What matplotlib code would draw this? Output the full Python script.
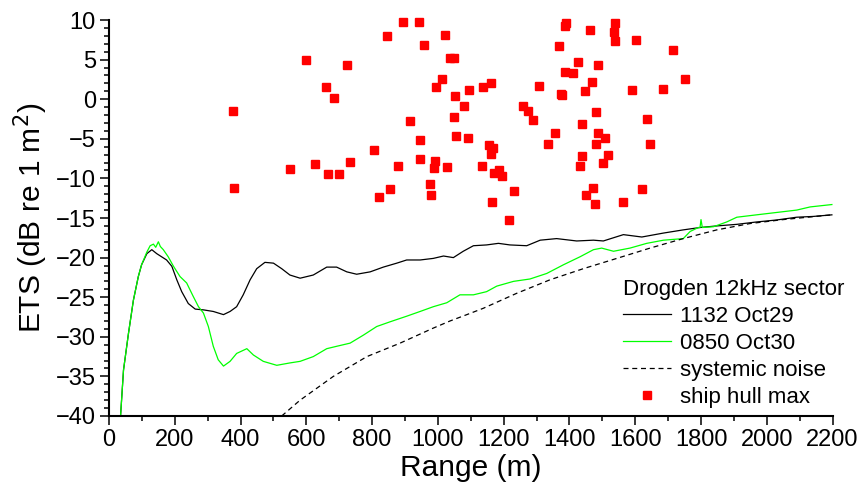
import matplotlib
matplotlib.use("Agg")
import matplotlib.pyplot as plt
from matplotlib.ticker import MultipleLocator

plt.rcParams['font.family'] = ['Liberation Sans', 'DejaVu Sans']

# 1132 Oct29 (black)
black_x = [35, 44, 59, 74, 89, 99, 115, 130, 145, 160, 175, 191, 206, 221, 241, 262, 287, 317, 348, 368,
           388, 408, 429, 449, 474, 500, 525, 550, 581, 621, 662, 692, 723, 753, 794, 834, 875, 905, 946, 986,
           1017, 1047, 1077, 1108, 1148, 1184, 1219, 1270, 1311, 1361, 1422, 1473, 1503, 1564, 1620, 1686,
           1746, 1797, 1848, 1909, 1969, 2030, 2091, 2142, 2198]
black_y = [-40, -34.2, -29.6, -25.4, -22.4, -20.9, -19.5, -19.0, -19.5, -19.9, -20.3, -21.1, -22.8, -24.3, -25.8, -26.5, -26.6, -26.8, -27.2, -26.8,
           -26.2, -24.7, -22.8, -21.4, -20.6, -20.7, -21.4, -22.2, -22.6, -22.2, -21.2, -21.2, -21.8, -22.1, -21.8, -21.2, -20.7, -20.3, -20.3, -20.1,
           -19.8, -20.0, -19.2, -18.5, -18.4, -18.2, -18.4, -18.5, -17.8, -17.6, -17.9, -17.8, -17.9, -17.1, -17.4, -16.9,
           -16.5, -16.2, -16.0, -15.8, -15.5, -15.25, -14.9, -14.8, -14.6]

# 0850 Oct30 (green)
green_x = [35, 44, 59, 74, 89, 99, 115, 125, 135, 142, 150, 156, 165, 180, 196, 216, 236, 256, 272, 287,
           302, 317, 332, 348, 368, 388, 419, 439, 469, 510, 550, 581, 621, 662, 692, 733, 773, 814, 855, 905,
           946, 986, 1027, 1067, 1108, 1148, 1179, 1230, 1280, 1331, 1382, 1432, 1473, 1498, 1534, 1584, 1635,
           1686, 1746, 1767, 1792, 1797, 1800, 1804, 1838, 1878, 1909, 1969, 2030, 2091, 2132, 2198]
green_y = [-40, -34.2, -29.6, -25.4, -22.4, -20.9, -19.3, -18.5, -18.3, -18.7, -18.0, -18.6, -19.0, -19.9, -21.1, -22.4, -23.2, -24.9, -26.2, -27.0,
           -28.7, -31.2, -32.9, -33.7, -33.1, -32.1, -31.5, -32.3, -33.1, -33.6, -33.3, -33.1, -32.5, -31.5, -31.2, -30.8, -29.8, -28.7, -28.1, -27.4,
           -26.8, -26.2, -25.7, -24.7, -24.7, -24.3, -23.6, -23.0, -22.7, -22.0, -20.9, -19.9, -19.0, -18.8, -19.2, -18.8, -18.2,
           -17.8, -17.6, -16.7, -16.2, -16.2, -15.2, -16.2, -16.1, -15.5, -14.9, -14.6, -14.3, -14.0, -13.6, -13.3]

# systemic noise (dashed)
noise_x = [525, 581, 682, 784, 885, 986, 1037, 1088, 1138, 1240, 1341, 1442, 1544, 1645, 1746, 1848, 1949, 2050, 2198]
noise_y = [-40, -38.0, -35.0, -32.5, -30.8, -28.9, -28.0, -27.2, -26.4, -24.5, -22.8, -21.4, -20.1, -18.8, -17.6, -16.5, -15.7, -15.2, -14.6]

# ship hull max
hull_x = [895, 941, 844, 1022, 958, 598, 723, 1037, 1050, 1012, 995, 659, 1137, 1161, 1096, 1053, 684, 1079, 376, 1049,
          915, 1055, 1093, 947, 1156, 1167, 1161, 806, 551, 626, 734, 667, 699, 879, 946, 991, 989, 1027, 1135, 1172,
          1185, 1196, 380, 855, 820, 977, 979, 1163, 1231, 1215, 1391, 1385, 1463, 1539, 1534, 1540, 1603, 1716, 1367, 1425,
          1486, 1387, 1410, 1468, 1751, 1307, 1374, 1378, 1447, 1590, 1683, 1260, 1274, 1288, 1480, 1637, 1439, 1357, 1334, 1486,
          1508, 1480, 1645, 1439, 1517, 1431, 1501, 1471, 1622, 1451, 1478, 1563]
hull_y = [9.7, 9.7, 8.0, 8.1, 6.8, 4.9, 4.3, 5.2, 5.2, 2.5, 1.5, 1.6, 1.6, 2.1, 1.2, 0.4, 0.1, -0.9, -1.5, -2.3,
          -2.8, -4.7, -4.9, -5.2, -5.8, -6.1, -6.9, -6.4, -8.8, -8.2, -7.9, -9.5, -9.4, -8.4, -7.6, -7.8, -8.7, -8.6, -8.4, -9.3,
          -9.0, -9.7, -11.2, -11.3, -12.4, -10.7, -12.1, -13.0, -11.6, -15.3, 9.6, 9.2, 8.8, 9.6, 8.5, 7.3, 7.5, 6.2, 6.7, 4.7,
          4.3, 3.4, 3.3, 2.2, 2.6, 1.7, 0.6, 0.5, 1.0, 1.1, 1.3, -0.9, -1.5, -2.6, -1.6, -2.5, -3.1, -4.3, -5.7, -4.3,
          -4.9, -5.6, -5.7, -7.2, -7.1, -8.4, -8.1, -11.2, -11.3, -12.1, -13.2, -13.0]

fig = plt.figure(figsize=(8.64, 4.93), dpi=100)
ax = fig.add_axes([0.1262, 0.1562, 0.8374, 0.8032])

ax.plot(black_x, black_y, color='black', lw=0.9, label='1132 Oct29')
ax.plot(green_x, green_y, color='#00ff00', lw=0.9, label='0850 Oct30')
ax.plot(noise_x, noise_y, color='black', lw=0.9, ls=(0, (4, 3)), label='systemic noise')
ax.plot(hull_x, hull_y, 's', color='#ff0000', ms=5.2, mec='#ff0000', ls='none',
        label='ship hull max', clip_on=False)

ax.set_xlim(0, 2200)
ax.set_ylim(-40, 10)
ax.xaxis.set_major_locator(MultipleLocator(200))
ax.xaxis.set_minor_locator(MultipleLocator(100))
ax.yaxis.set_major_locator(MultipleLocator(5))
ax.yaxis.set_minor_locator(MultipleLocator(1))

for s in ['top', 'right']:
    ax.spines[s].set_visible(False)
for s in ['left', 'bottom']:
    ax.spines[s].set_linewidth(1.5)

ax.tick_params(which='major', length=6.5, width=1.1, labelsize=17, pad=3)
ax.tick_params(which='minor', length=3.6, width=1.1)

ax.set_xlabel('Range (m)', fontsize=21.5, labelpad=2)
ax.set_ylabel('ETS (dB re 1 m$^2$)', fontsize=21.5, labelpad=4)

leg = ax.legend(title='Drogden 12kHz sector', loc='upper left',
                bbox_to_anchor=(0.721, 0.435), bbox_transform=fig.transFigure,
                frameon=False, fontsize=16, title_fontsize=16, alignment='left',
                handlelength=2.15, handletextpad=0.4, labelspacing=0.27,
                borderpad=0, borderaxespad=0, numpoints=1)

fig.savefig('out.png', dpi=100)
